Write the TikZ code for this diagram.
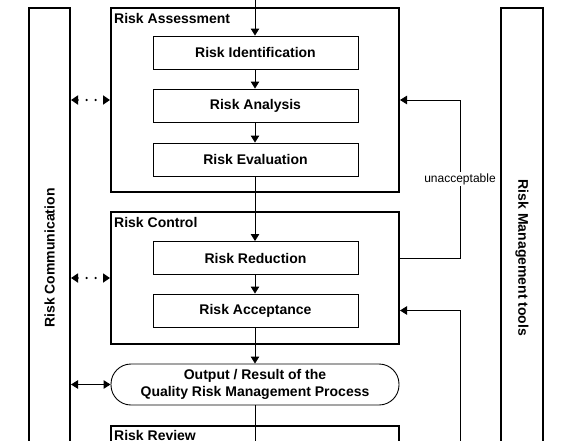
\documentclass[tikz,border=0pt]{standalone}
\usepackage{fontspec}
\setmainfont{Liberation Sans}
\usetikzlibrary{arrows.meta}

\begin{document}
\begin{tikzpicture}[x=1pt, y=-1pt,
  font=\fontsize{14}{17}\selectfont\bfseries,
  outerbox/.style={draw, line width=2pt, minimum width=288pt, inner sep=0pt},
  bar/.style={draw, line width=2pt, minimum width=41pt, minimum height=500pt, inner sep=0pt},
  stepbox/.style={draw, line width=0.9pt, minimum width=205pt, minimum height=33pt, inner sep=0pt},
  boxlabel/.style={anchor=base west, inner sep=0pt},
  flow/.style={line width=0.9pt, -{Triangle[length=7pt,width=8.5pt]}},
  both/.style={line width=0.9pt, {Triangle[length=7pt,width=8.5pt]}-{Triangle[length=7pt,width=8.5pt]}},
  talk/.style={line width=2.4pt, line cap=round, dash pattern=on 0pt off 9pt,
    {Triangle[length=7pt,width=9pt]}-{Triangle[length=7pt,width=9pt]}}]
  \clip (0,0) rectangle (571,440);

  % side bars
  \node[bar] (comm) at (49.5,258) {};
  \node[rotate=90] (commtext) at (comm.center) {Risk Communication};
  \node[bar, minimum width=42pt] (tools) at (522,258) {};
  \node[rotate=-90] (toolstext) at (tools.center) {Risk Management tools};

  % risk assessment
  \node[outerbox, minimum height=184pt] (assess) at (255,100) {};
  \node[boxlabel] (assesslbl) at ([xshift=4pt,yshift=-16pt]assess.north west) {Risk Assessment};
  \node[stepbox] (ident) at (255.5,52.5) {Risk Identification};
  \node[stepbox] (anal) at (255.5,105.5) {Risk Analysis};
  \node[stepbox] (eval) at (255.5,159.5) {Risk Evaluation};

  % risk control
  \node[outerbox, minimum height=132pt] (control) at (255,278) {};
  \node[boxlabel] (controllbl) at ([xshift=4pt,yshift=-16pt]control.north west) {Risk Control};
  \node[stepbox] (reduct) at (255.5,258) {Risk Reduction};
  \node[stepbox] (accept) at (255.5,310.5) {Risk Acceptance};

  % output
  \node[draw, line width=0.9pt, rounded corners=20pt, minimum width=288pt,
    minimum height=41pt, inner sep=0pt, align=center] (output) at (255,384.5)
    {Output / Result of the\\Quality Risk Management Process};

  % risk review
  \node[outerbox, minimum height=80pt] (review) at (255,466) {};
  \node[boxlabel] (reviewlbl) at ([xshift=4pt,yshift=-15pt]review.north west) {Risk Review};

  % main flow
  \coordinate (start) at (255,-10);
  \coordinate (fb) at (460,0);
  \draw[flow] (start) -- (ident.north -| start);
  \draw[flow] (ident.south -| start) -- (anal.north -| start);
  \draw[flow] (anal.south -| start) -- (eval.north -| start);
  \draw[flow] (eval.south -| start) -- (reduct.north -| start);
  \draw[flow] (reduct.south -| start) -- (accept.north -| start);
  \draw[flow] (accept.south -| start) -- (output.north -| start);
  \draw[line width=0.9pt] (output.south -| start) -- (review.south -| start);

  % feedback
  \draw[flow] (control.east |- reduct.east) -| (fb |- assess.east) -- (assess.east);
  \node[fill=white, inner sep=1pt, font=\fontsize{12}{14}\selectfont] (unacc) at (fb |- 0,179) {unacceptable};
  \draw[flow] (review.east) -| (fb |- accept.east) -- (control.east |- accept.east);

  % communication
  \draw[talk] (comm.east |- assess.west) -- (assess.west);
  \draw[talk] (comm.east |- control.west) -- (control.west);
  \draw[both] (comm.east |- output.west) -- (output.west);
\end{tikzpicture}
\end{document}
